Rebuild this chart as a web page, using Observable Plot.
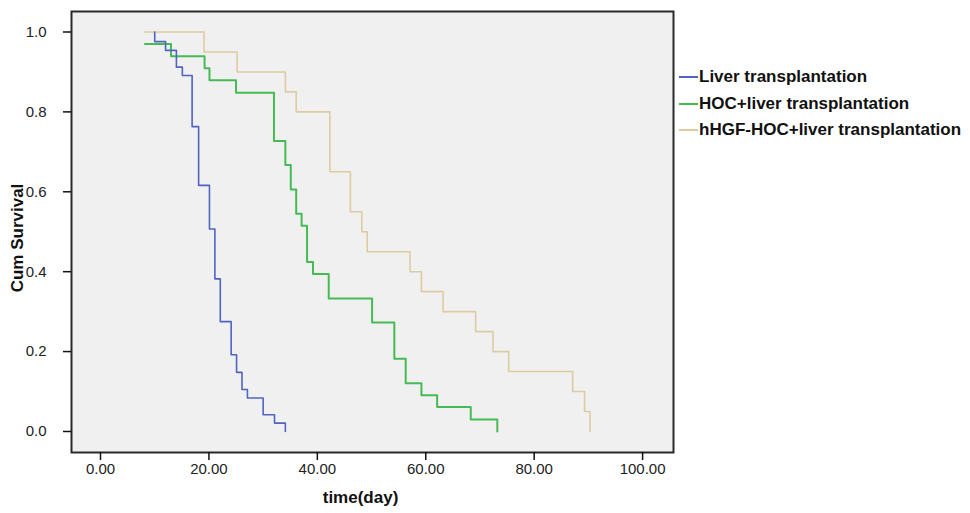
<!DOCTYPE html>
<html>
<head>
<meta charset="utf-8">
<script src="https://cdn.jsdelivr.net/npm/d3@7"></script>
<script src="https://cdn.jsdelivr.net/npm/@observablehq/plot@0.6"></script>
<style>
  html, body { margin: 0; padding: 0; background: #fff; }
  #wrap { position: relative; width: 970px; height: 513px; }
  #legend { position: absolute; left: 679px; top: 64px; font-family: "Liberation Sans", Arial, sans-serif; font-weight: bold; font-size: 17px; color: #111; }
  #legend .row { display: flex; align-items: center; height: 26.5px; white-space: nowrap; }
  #legend .sw { width: 19px; height: 2px; margin-right: 1px; }
</style>
</head>
<body>
<div id="wrap"></div>
<script>
// Series names
const seriesNames = ["Liver transplantation", "HOC+liver transplantation", "hHGF-HOC+liver transplantation"];
const seriesColors = ["#5064c0", "#46bb55", "#ddcba2"];

// Liver transplantation (step points: time, cumulative survival)
const liverTime = [10, 10, 12, 14, 15.1, 16.9, 18.1, 20.1, 21.1, 22.1, 24.1, 25.1, 26.1, 27.1, 30, 32.1, 34.1];
const liverSurv = [1, 0.976, 0.954, 0.912, 0.891, 0.763, 0.616, 0.507, 0.382, 0.275, 0.192, 0.148, 0.105, 0.084, 0.042, 0.021, 0];

// HOC+liver transplantation
const hocTime = [8.2, 13, 19.2, 20.1, 25, 32, 34.1, 35.1, 36.1, 37.1, 38.1, 39.2, 42.1, 50.1, 54.2, 56.3, 59.2, 62.1, 68.3, 73.2];
const hocSurv = [0.97, 0.939, 0.909, 0.879, 0.848, 0.727, 0.667, 0.606, 0.545, 0.515, 0.424, 0.394, 0.333, 0.273, 0.182, 0.121, 0.091, 0.061, 0.030, 0];

// hHGF-HOC+liver transplantation
const hhgfTime = [8.2, 19.1, 25.2, 34.1, 36.1, 42.3, 46.1, 48.2, 49.2, 57.1, 59.2, 63.2, 69.2, 72.4, 75.3, 87.1, 89.3, 90.3];
const hhgfSurv = [1, 0.95, 0.90, 0.85, 0.80, 0.65, 0.55, 0.50, 0.45, 0.40, 0.35, 0.30, 0.25, 0.20, 0.15, 0.10, 0.05, 0];

// Axis ticks
const xTicks = [0, 20, 40, 60, 80, 100];
const yTicks = [0, 0.2, 0.4, 0.6, 0.8, 1.0];

const toRows = (times, survs, name) => times.map((t, i) => ({t, s: survs[i], name}));
const liver = toRows(liverTime, liverSurv, seriesNames[0]);
const hoc = toRows(hocTime, hocSurv, seriesNames[1]);
const hhgf = toRows(hhgfTime, hhgfSurv, seriesNames[2]);

const chart = Plot.plot({
  width: 970,
  height: 513,
  marginLeft: 71,
  marginRight: 297,
  marginTop: 11,
  marginBottom: 61,
  x: {domain: [-5.35, 105.7]},
  y: {domain: [-0.0526, 1.0513]},
  style: {fontFamily: "'Liberation Sans', Arial, sans-serif", fontSize: "15px", color: "#222", background: "transparent"},
  marks: [
    Plot.frame({fill: "#f0f0f0", stroke: null}),
    Plot.line(hhgf, {x: "t", y: "s", curve: "step-after", stroke: seriesColors[2], strokeWidth: 1.6}),
    Plot.line(hoc, {x: "t", y: "s", curve: "step-after", stroke: seriesColors[1], strokeWidth: 2}),
    Plot.line(liver, {x: "t", y: "s", curve: "step-after", stroke: seriesColors[0], strokeWidth: 1.6}),
    Plot.frame({stroke: "#2a2a2a", strokeWidth: 2}),
    Plot.axisX({ticks: xTicks, tickFormat: d => d.toFixed(2), tickSize: 8, tickPadding: 3, stroke: "#111", strokeWidth: 1.5, label: null}),
    Plot.axisY({ticks: yTicks, tickFormat: d => d.toFixed(1), tickSize: 8, tickPadding: 17, stroke: "#111", strokeWidth: 1.5, label: null}),
    Plot.text(["Cum Survival"], {frameAnchor: "left", textAnchor: "middle", rotate: -90, dx: -54, dy: 6, fontWeight: "bold", fontSize: 17, fill: "#111"}),
    Plot.text(["time(day)"], {frameAnchor: "bottom", dx: -12, dy: 50, fontWeight: "bold", fontSize: 17, fill: "#111"})
  ]
});

const wrap = document.getElementById("wrap");
wrap.appendChild(chart);

const legend = document.createElement("div");
legend.id = "legend";
seriesNames.forEach((name, i) => {
  const row = document.createElement("div");
  row.className = "row";
  const sw = document.createElement("span");
  sw.className = "sw";
  sw.style.background = seriesColors[i];
  const label = document.createElement("span");
  label.textContent = name;
  row.appendChild(sw);
  row.appendChild(label);
  legend.appendChild(row);
});
wrap.appendChild(legend);
</script>
</body>
</html>
